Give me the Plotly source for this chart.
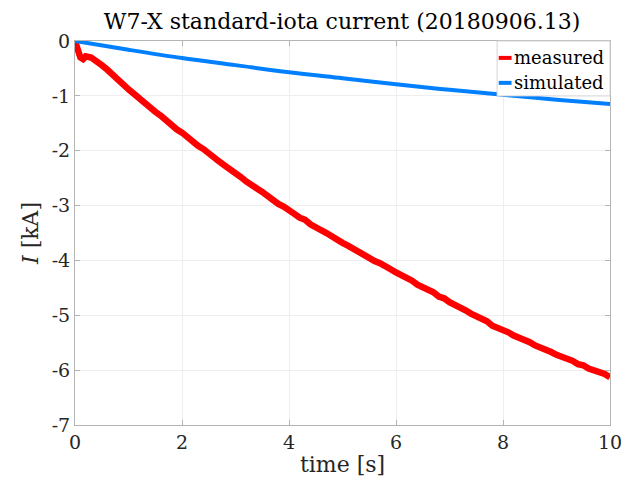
import plotly.graph_objects as go

# measured current (kA) vs time (s)
t_meas = [0.0, 0.05, 0.1, 0.15, 0.2, 0.3, 0.4, 0.5, 0.6, 0.7, 0.8, 0.9,
          1.0, 1.1, 1.2, 1.3, 1.4, 1.5, 1.6, 1.7, 1.8, 1.9,
          2.0, 2.1, 2.2, 2.3, 2.4, 2.5, 2.6, 2.7, 2.8, 2.9,
          3.0, 3.1, 3.2, 3.3, 3.4, 3.5, 3.6, 3.7, 3.8, 3.9,
          4.0, 4.1, 4.2, 4.3, 4.4, 4.5, 4.6, 4.7, 4.8, 4.9,
          5.0, 5.1, 5.2, 5.3, 5.4, 5.5, 5.6, 5.7, 5.8, 5.9,
          6.0, 6.1, 6.2, 6.3, 6.4, 6.5, 6.6, 6.7, 6.8, 6.9,
          7.0, 7.1, 7.2, 7.3, 7.4, 7.5, 7.6, 7.7, 7.8, 7.9,
          8.0, 8.1, 8.2, 8.3, 8.4, 8.5, 8.6, 8.7, 8.8, 8.9,
          9.0, 9.1, 9.2, 9.3, 9.4, 9.5, 9.6, 9.7, 9.8, 9.9, 10.0]
i_meas = [0.0, -0.15, -0.3, -0.33, -0.28, -0.3, -0.36, -0.44, -0.52, -0.6, -0.7, -0.79,
          -0.88, -0.97, -1.04, -1.14, -1.20, -1.29, -1.36, -1.45, -1.51, -1.61,
          -1.67, -1.76, -1.82, -1.91, -1.97, -2.06, -2.11, -2.20, -2.27, -2.33,
          -2.42, -2.48, -2.56, -2.61, -2.69, -2.75, -2.83, -2.88, -2.97, -3.02,
          -3.10, -3.15, -3.22, -3.26, -3.34, -3.38, -3.45, -3.50, -3.57, -3.61,
          -3.68, -3.73, -3.79, -3.83, -3.90, -3.94, -4.01, -4.05, -4.12, -4.16,
          -4.22, -4.26, -4.33, -4.37, -4.44, -4.48, -4.55, -4.58, -4.66, -4.69,
          -4.76, -4.80, -4.87, -4.91, -4.97, -5.01, -5.08, -5.11, -5.19, -5.22,
          -5.28, -5.31, -5.37, -5.40, -5.46, -5.49, -5.55, -5.58, -5.64, -5.67,
          -5.72, -5.75, -5.81, -5.83, -5.89, -5.91, -5.97, -6.00, -6.05, -6.07, -6.13]

# simulated current (kA)
t_sim = [0, 1, 2, 3, 4, 5, 6, 7, 8, 9, 10]
i_sim = [0.0, -0.16, -0.31, -0.44, -0.57, -0.68, -0.79, -0.89, -0.98, -1.07, -1.15]

x_ticks = [0, 2, 4, 6, 8, 10]
y_ticks = [0, -1, -2, -3, -4, -5, -6, -7]

series_names = ["measured", "simulated"]
series_colors = ["#ff0000", "#0080ff"]

FONT = "DejaVu Serif"
TXT = "#262626"

fig = go.Figure()
fig.add_trace(go.Scatter(x=t_meas, y=i_meas, mode="lines", name=series_names[0],
                         line=dict(color=series_colors[0], width=6.5)))
fig.add_trace(go.Scatter(x=t_sim, y=i_sim, mode="lines", name=series_names[1],
                         line=dict(color=series_colors[1], width=4, shape="spline")))

axis_common = dict(showline=True, linecolor="#b4b4b4", linewidth=1, mirror="ticks",
                   ticks="inside", ticklen=5, tickcolor="#b4b4b4",
                   showgrid=True, gridcolor="#eeeeee", gridwidth=1, zeroline=False,
                   automargin=False,
                   tickfont=dict(family=FONT, size=19, color=TXT))

fig.update_xaxes(range=[0, 10], tickvals=x_ticks, ticktext=[str(v) for v in x_ticks],
                 title=dict(text="time [s]", font=dict(family=FONT, size=22, color=TXT), standoff=4),
                 **axis_common)
fig.update_yaxes(range=[-7, 0], tickvals=y_ticks, ticktext=[str(v) for v in y_ticks],
                 title=dict(text="<i>I</i> [kA]", font=dict(family=FONT, size=22, color=TXT), standoff=6),
                 **axis_common)

# legend box (MATLAB style, compact)
fig.add_shape(type="rect", xref="paper", yref="paper", x0=0.789, x1=1.0, y0=0.857, y1=1.0,
              line=dict(color="#d4d4d4", width=1), fillcolor="white", layer="above")
for nm, col, yy in zip(series_names, series_colors, [0.956, 0.891]):
    fig.add_shape(type="line", xref="paper", yref="paper", x0=0.792, x1=0.816, y0=yy, y1=yy,
                  line=dict(color=col, width=4), layer="above")
    fig.add_annotation(x=0.816, y=yy, xref="paper", yref="paper", text=nm, showarrow=False,
                       xanchor="left", yanchor="middle",
                       font=dict(family=FONT, size=18, color="#000000"))

fig.update_layout(
    width=640, height=491,
    paper_bgcolor="white", plot_bgcolor="white",
    margin=dict(l=67, r=38, t=33, b=74),
    title=dict(text="W7-X standard-iota current (20180906.13)", x=0.522, xanchor="center",
               xref="container", yref="container", y=0.972, yanchor="middle",
               font=dict(family=FONT, size=22, color="#000000")),
    showlegend=False,
)

fig.write_html("out.html")
